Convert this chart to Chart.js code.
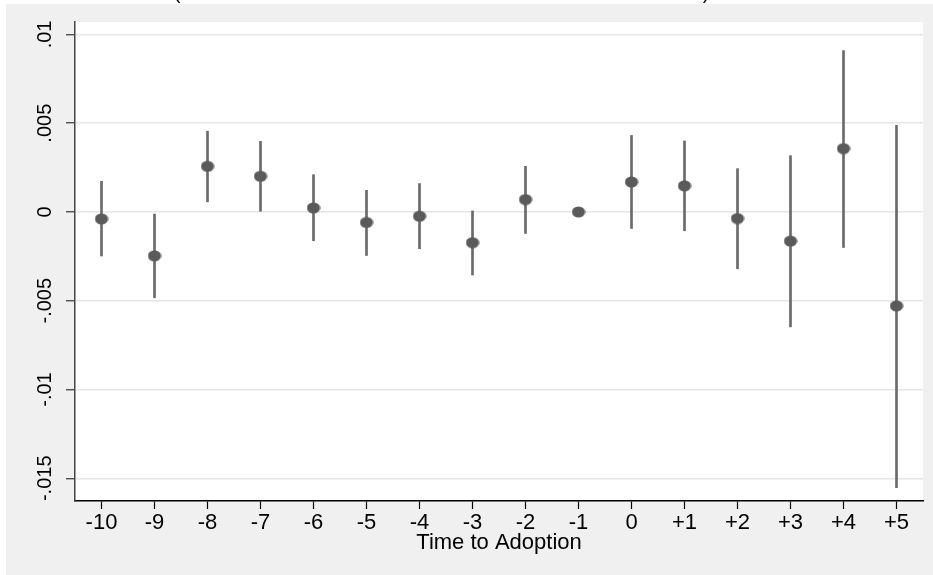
<!DOCTYPE html>
<html>
<head>
<meta charset="utf-8">
<script src="https://cdn.jsdelivr.net/npm/chart.js@4/dist/chart.umd.min.js"></script>
<style>
  html, body { margin: 0; padding: 0; background: #ffffff; }
  #wrap { width: 933px; height: 575px; }
</style>
</head>
<body>
<div id="wrap"><canvas id="c" width="933" height="575"></canvas></div>
<script>
// ---- data ----
const categories = ['-10','-9','-8','-7','-6','-5','-4','-3','-2','-1','0','+1','+2','+3','+4','+5'];
const estimates  = [-0.00039, -0.00247, 0.00257, 0.00201, 0.00023, -0.00059, -0.00024, -0.00173, 0.00070, 0.0, 0.00169, 0.00147, -0.00037, -0.00164, 0.00357, -0.00529];
const ciLow      = [-0.00248, -0.00483, 0.00057, 0.00004, -0.00162, -0.00245, -0.00207, -0.00355, -0.00121, null, -0.00093, -0.00106, -0.00320, -0.00647, -0.00200, -0.01553];
const ciHigh     = [0.00173, -0.00012, 0.00455, 0.00398, 0.00210, 0.00122, 0.00160, 0.00006, 0.00257, null, 0.00431, 0.00400, 0.00244, 0.00317, 0.00909, 0.00488];
const yTickValues = [-0.015, -0.01, -0.005, 0, 0.005, 0.01];
const yTickLabels = ['-.015', '-.01', '-.005', '0', '.005', '.01'];
const xTitle = 'Time to Adoption';

const ciBars = categories.map((c, i) => (ciLow[i] === null ? null : [ciLow[i], ciHigh[i]]));

// elliptical marker like the reference
const marker = document.createElement('canvas');
marker.width = 14; marker.height = 12;
(function () {
  const m = marker.getContext('2d');
  m.fillStyle = '#5a5a5a';
  m.beginPath();
  m.ellipse(7, 6, 6.6, 5.6, 0, 0, Math.PI * 2);
  m.fill();
})();

const bgPlugin = {
  id: 'bg',
  beforeDraw(chart) {
    const ctx = chart.ctx, a = chart.chartArea;
    ctx.save();
    ctx.fillStyle = '#ffffff';
    ctx.fillRect(0, 0, chart.width, chart.height);
    ctx.fillStyle = '#f0f0f0';
    ctx.fillRect(6, 4, chart.width - 6, chart.height - 4);
    ctx.fillStyle = '#ffffff';
    ctx.fillRect(a.left, a.top, a.right - a.left, a.bottom - a.top);
    // clipped title remnants at the very top
    ctx.fillStyle = '#000000';
    ctx.font = '20px "Liberation Sans", Arial, sans-serif';
    ctx.textAlign = 'center';
    ctx.textBaseline = 'alphabetic';
    ctx.fillText('(', 177, -1);
    ctx.fillText(')', 706, -1);
    ctx.restore();
  },
  afterDraw(chart) {
    const ctx = chart.ctx, a = chart.chartArea;
    const y = chart.scales.y;
    ctx.save();
    ctx.fillStyle = '#000000';
    ctx.font = '20px "Liberation Sans", Arial, sans-serif';
    ctx.textAlign = 'center';
    ctx.textBaseline = 'middle';
    yTickValues.forEach((v, i) => {
      const py = y.getPixelForValue(v);
      ctx.save();
      ctx.translate(45, py);
      ctx.rotate(-Math.PI / 2);
      ctx.fillText(yTickLabels[i], 0, 0);
      ctx.restore();
    });
    ctx.font = '22px "Liberation Sans", Arial, sans-serif';
    ctx.fillText(xTitle, (a.left + a.right) / 2, 543);
    ctx.restore();
  }
};

new Chart(document.getElementById('c'), {
  type: 'bar',
  data: {
    labels: categories,
    datasets: [
      {
        type: 'line',
        label: 'estimate',
        data: estimates,
        showLine: false,
        pointStyle: marker,
        pointRadius: 6,
        pointHoverRadius: 6,
        order: 1
      },
      {
        type: 'bar',
        label: 'ci',
        data: ciBars,
        backgroundColor: '#6a6a6a',
        borderWidth: 0,
        barThickness: 2,
        grouped: false,
        order: 2
      }
    ]
  },
  options: {
    responsive: false,
    animation: false,
    layout: { padding: { left: 0, right: 10, top: 22, bottom: 0 } },
    plugins: { legend: { display: false }, tooltip: { enabled: false }, title: { display: false } },
    scales: {
      x: {
        type: 'category',
        offset: true,
        grid: { display: true, offset: false, drawOnChartArea: false, drawTicks: true, tickLength: 8, tickColor: '#000000', tickWidth: 1.2 },
        border: { display: true, color: '#000000', width: 1.5 },
        ticks: { color: '#000000', font: { family: '"Liberation Sans", Arial, sans-serif', size: 22 }, padding: 1, maxRotation: 0, minRotation: 0, autoSkip: false },
        afterFit(s) { s.height = 74; }
      },
      y: {
        min: -0.01628,
        max: 0.0107,
        afterBuildTicks(s) { s.ticks = yTickValues.map(v => ({ value: v })); },
        grid: { display: true, drawOnChartArea: true, color: '#e6e6e6', lineWidth: 1.5, drawTicks: true, tickLength: 9, tickColor: '#333333', tickWidth: 1.2 },
        border: { display: true, color: '#444444', width: 1.5 },
        ticks: { display: false },
        afterFit(s) { s.width = 75; }
      }
    }
  },
  plugins: [bgPlugin]
});
</script>
</body>
</html>
